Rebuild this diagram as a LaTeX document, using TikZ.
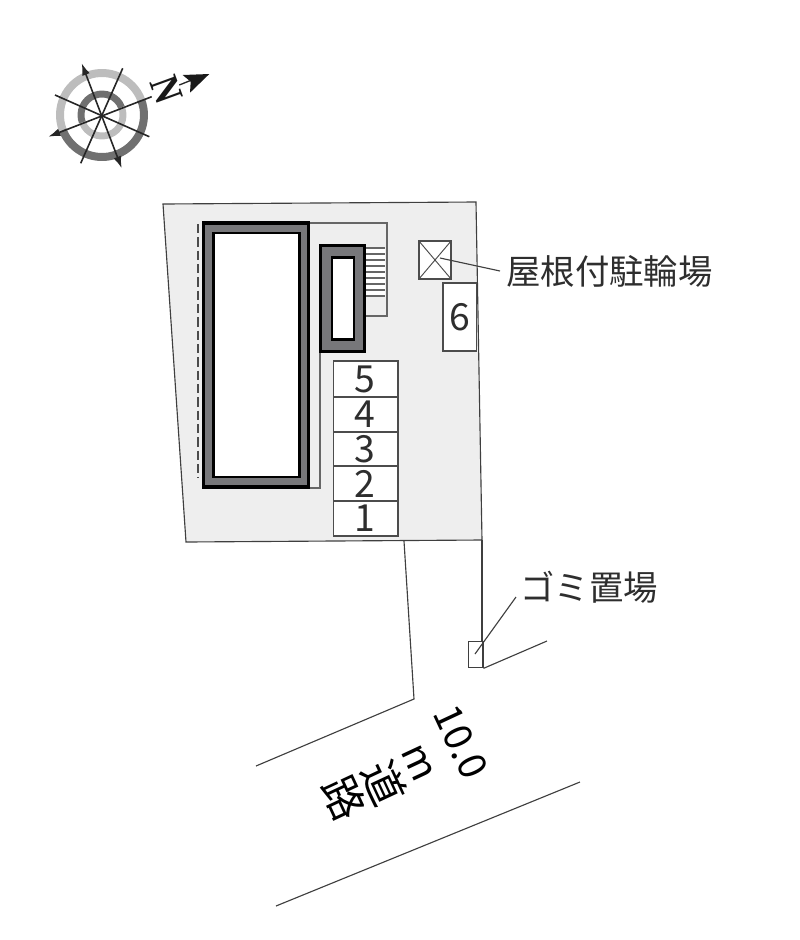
\documentclass[tikz,border=0pt]{standalone}
\usepackage{fontspec}
\setmainfont{Noto Sans CJK JP}
\newfontfamily\serifbold{Liberation Serif}[BoldFont=* Bold]
\definecolor{site}{HTML}{EEEEEE}
\definecolor{wallgray}{HTML}{77777A}
\definecolor{inkline}{HTML}{3F3F3F}
\definecolor{ringlight}{HTML}{BDBDBD}
\definecolor{ringdark}{HTML}{707070}
\definecolor{labeltext}{HTML}{2E2E2E}
\tikzset{
  thinline/.style={draw=inkline,line width=0.85pt},
  paleline/.style={draw=black!60,line width=0.8pt},
  stairline/.style={draw=black!60,line width=1.1pt},
  wall/.style={draw=black,fill=wallgray,line width=2.3pt},
  room/.style={draw=black,fill=white,line width=2.2pt},
  slotbox/.style={draw=black!70,fill=white,line width=0.8pt},
  slotnum/.style={text=labeltext,font=\fontsize{28}{28}\selectfont,inner sep=0pt},
  tag/.style={text=labeltext,font=\fontsize{25.8}{28}\selectfont,inner sep=0pt},
  roadtag/.style={text=black,font=\fontsize{29}{29}\selectfont,inner sep=0pt,rotate=-65},
  roadkanji/.style={text=black,font=\fontsize{32}{32}\selectfont,inner sep=0pt,rotate=-65},
  needle/.style={draw=black!85,line width=1.2pt},
  needletip/.style={-{Latex[length=9pt,width=6pt]}},
}
\usetikzlibrary{arrows.meta}
\begin{document}
\begin{tikzpicture}[x=0.75pt,y=-0.75pt]
\useasboundingbox (0,0) rectangle (800,940);
% site
\fill[site] (163,204) -- (476,202) -- (482,540) -- (186,542) -- cycle;
\draw[thinline] (163,204) -- (476,202) -- (482,540) -- (186,542) -- cycle;
% thin building outlines
\draw[paleline] (310,223) -- (387,223) -- (387,316) -- (366,316);
\draw[paleline] (320,352) -- (320,488) -- (310,488);
% stairs
\fill[white] (366,248) rectangle (385,296);
\foreach \yy in {248,254,260,266,272,278,284,290,296}
  \draw[stairline] (366,\yy) -- (385,\yy);
% dashed wall
\draw[draw=black!70,line width=1.5pt,dash pattern=on 7pt off 3pt] (198,224) -- (198,478);
% main building
\node[wall,inner sep=0pt,minimum width=79pt,minimum height=198pt] (bldgA) at (256,355) {};
\node[room,inner sep=0pt,minimum width=64.5pt,minimum height=183pt] (roomA) at (256.3,355) {};
% small building
\node[wall,inner sep=0pt,minimum width=33pt,minimum height=80pt] (bldgB) at (342.5,298.5) {};
\node[room,inner sep=0pt,minimum width=16.5pt,minimum height=62pt] (roomB) at (343,298.5) {};
% bike shelter
\node[draw=black!70,fill=white,line width=0.8pt,inner sep=0pt,minimum width=24pt,minimum height=28.5pt] (bike) at (435,260) {};
\draw[draw=black!70,line width=0.7pt] (bike.north west) -- (bike.south east) (bike.north east) -- (bike.south west);
% parking
\node[slotbox,inner sep=0pt,minimum width=24.8pt,minimum height=51pt] (slotsix) at (459.5,317) {};
\node[slotnum] (numsix) at (460,317) {6};
\foreach \nm/\ya/\yb in {5/361/397,4/397/432,3/432/466,2/466/501,1/501/536}{
  \node[slotbox,inner sep=0pt,minimum width=48.7pt,minimum height={(\yb-\ya)*0.75pt}] (slot\nm) at (365.5,{(\ya+\yb)/2}) {};
  \node[slotnum] (num\nm) at (365,{(\ya+\yb)/2}) {\nm};
}
% labels
\node[tag] (roof) at (609.5,271) {屋根付駐輪場};
\node[tag] (trash) at (589,587) {ゴミ置場};
\coordinate (roofend) at (500,271);
\coordinate (bikein) at (440,258);
\draw[thinline] (bikein) -- (roofend);
% bin and leaders
\draw[thinline] (482,540) -- (482,642);
\node[draw=inkline,line width=0.8pt,inner sep=0pt,minimum width=11.2pt,minimum height=20pt] (bin) at (475.5,654.5) {};
\coordinate (trashend) at (516,597);
\coordinate (binin) at (475,654);
\coordinate (fenceend) at (547,641);
\draw[thinline] (binin) -- (trashend);
\draw[thinline] (bin.south east) -- (fenceend);
% road
\draw[thinline] (404,541) -- (414,699) -- (256,766);
\draw[thinline] (580,782) -- (276,906);
\node[roadtag] (width) at (461,742) {10.0};
\node[roadtag] (unit) at (418,763) {m};
\node[roadkanji] (roadA) at (384,783) {道};
\node[roadkanji] (roadB) at (344,798) {路};
% compass
\begin{scope}[shift={(102,115)},yscale=-1]
  \draw[ringlight,line width=6pt] (21:42) arc[start angle=21,end angle=201,radius=42];
  \draw[ringdark,line width=6pt] (201:42) arc[start angle=201,end angle=381,radius=42];
  \draw[ringdark,line width=5.2pt] (21:21) arc[start angle=21,end angle=201,radius=21];
  \draw[ringlight,line width=5.2pt] (201:21) arc[start angle=201,end angle=381,radius=21];
\end{scope}
\coordinate (needA) at (48.3,136.7);
\coordinate (needAb) at (151.7,96.7);
\coordinate (needB) at (81.7,63.3);
\coordinate (needBb) at (121.7,168.3);
\draw[needle,needletip] (needAb) -- (needA);
\draw[needle,{Latex[length=9pt,width=6pt]}-{Latex[length=9pt,width=6pt]}] (needB) -- (needBb);
\draw[needle] (55,95) -- (149.3,136.7);
\draw[needle] (122.7,68.3) -- (80.7,163.3);
\node[rotate=-70,font=\serifbold\bfseries\fontsize{31}{31}\selectfont,xscale=0.85,inner sep=0pt,text=black!90] (north) at (167,90) {N};
\fill[black!90] (209.3,74) -- (182.7,75) -- (190.7,81.7) -- (190,92.7) -- cycle;
\draw[black!85,line width=1pt] (179.3,85) -- (190,80.7);
\end{tikzpicture}
\end{document}
